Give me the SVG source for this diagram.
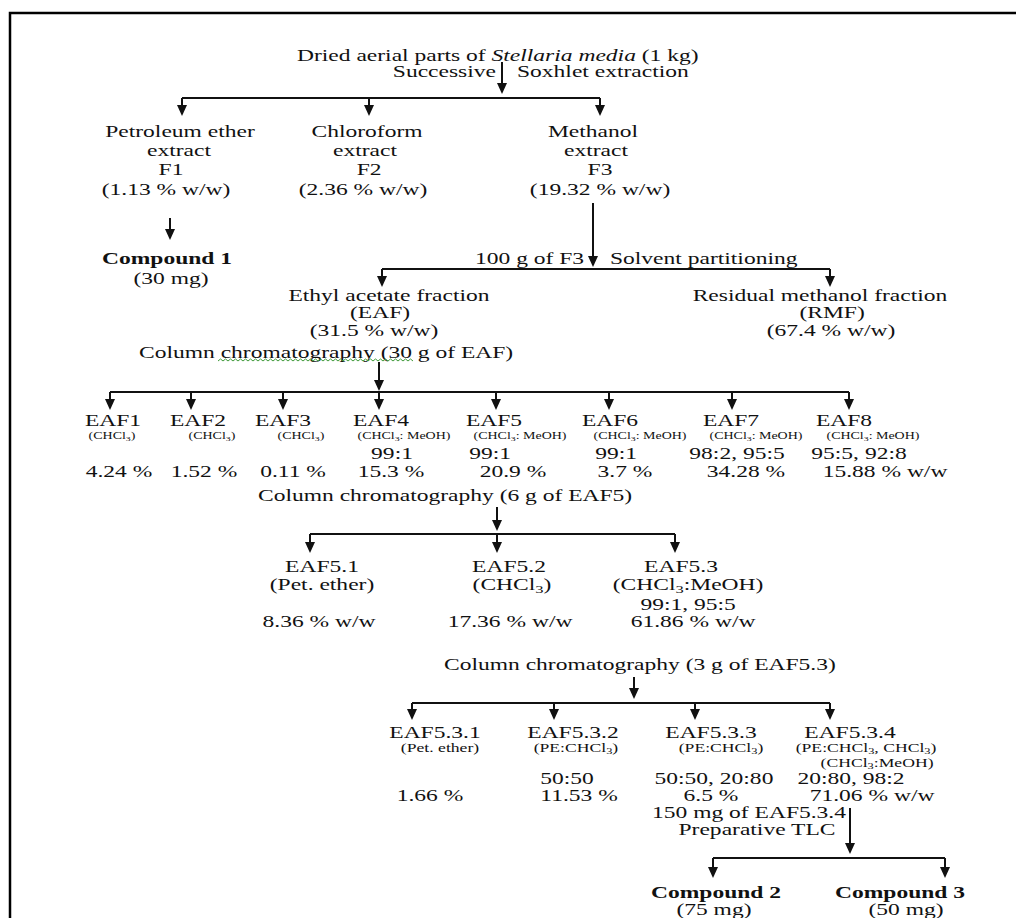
<svg xmlns="http://www.w3.org/2000/svg" width="1016" height="918" viewBox="0 0 1016 918">
<defs>
<marker id="ah" viewBox="0 0 11 10" refX="8" refY="5" markerWidth="11" markerHeight="10" markerUnits="userSpaceOnUse" orient="auto"><path d="M0,0 L11,5 L0,10 z" fill="#111"/></marker>
<style>
text{font-family:"Liberation Serif","Times New Roman",serif;font-size:16px;fill:#111}
.m{text-anchor:middle}
.e{text-anchor:end}
.b{font-weight:bold}
.sm{font-size:9.5px}
.s12{font-size:12px}
.sub{font-size:70%}
.ln{stroke:#111;stroke-width:2;fill:none}
.ar{stroke:#111;stroke-width:2;fill:none;marker-end:url(#ah)}
</style>
</defs>
<rect width="1016" height="918" fill="#fff"/>
<path d="M10 918 V13 H1016" stroke="#000" stroke-width="2.5" fill="none"/>

<g id="connectors">
<path class="ar" d="M502 62 V91"/>
<path class="ln" d="M182 98 H600"/>
<path class="ar" d="M182 98 V113"/>
<path class="ar" d="M369 98 V113"/>
<path class="ar" d="M600 98 V113"/>
<path class="ar" d="M170 218 V237"/>
<path class="ar" d="M593 203 V264"/>
<path class="ln" d="M382 269 H830"/>
<path class="ar" d="M382 269 V284"/>
<path class="ar" d="M830 269 V284"/>
<path class="ar" d="M379 362 V388"/>
<path class="ln" d="M110 392 H849"/>
<path class="ar" d="M110 392 V407"/>
<path class="ar" d="M191 392 V407"/>
<path class="ar" d="M283 392 V407"/>
<path class="ar" d="M379 392 V407"/>
<path class="ar" d="M496 392 V407"/>
<path class="ar" d="M609 392 V407"/>
<path class="ar" d="M732 392 V407"/>
<path class="ar" d="M849 392 V407"/>
<path class="ar" d="M497 507 V528"/>
<path class="ln" d="M310 534 H675"/>
<path class="ar" d="M310 534 V550"/>
<path class="ar" d="M497 534 V550"/>
<path class="ar" d="M675 534 V550"/>
<path class="ar" d="M634 677 V696"/>
<path class="ln" d="M412 703 H830"/>
<path class="ar" d="M412 703 V717"/>
<path class="ar" d="M554 703 V717"/>
<path class="ar" d="M695 703 V717"/>
<path class="ar" d="M830 703 V717"/>
<path class="ar" d="M850 808 V851"/>
<path class="ln" d="M713 858 H945"/>
<path class="ar" d="M713 858 V875"/>
<path class="ar" d="M945 858 V875"/>
<g id="edge-labels">
<g transform="translate(496 0) scale(1.47 1)"><text class="e" x="0" y="77">Successive</text></g>
<g transform="translate(517 0) scale(1.47 1)"><text x="0" y="77">Soxhlet extraction</text></g>
<g transform="translate(475 0) scale(1.47 1)"><text x="0" y="264">100 g of F3</text></g>
<g transform="translate(610 0) scale(1.47 1)"><text x="0" y="264">Solvent partitioning</text></g>
<g transform="translate(139 0) scale(1.47 1)"><text x="0" y="358">Column chromatography (30 g of EAF)</text></g>
<path d="M218 361 l2.5 -2 l2.5 2 l2.5 -2 l2.5 2 l2.5 -2 l2.5 2 l2.5 -2 l2.5 2 l2.5 -2 l2.5 2 l2.5 -2 l2.5 2 l2.5 -2 l2.5 2 l2.5 -2 l2.5 2 l2.5 -2 l2.5 2 l2.5 -2 l2.5 2 l2.5 -2 l2.5 2 l2.5 -2 l2.5 2 l2.5 -2 l2.5 2 l2.5 -2 l2.5 2 l2.5 -2 l2.5 2 l2.5 -2 l2.5 2 l2.5 -2 l2.5 2 l2.5 -2 l2.5 2 l2.5 -2 l2.5 2 l2.5 -2 l2.5 2 l2.5 -2 l2.5 2 l2.5 -2 l2.5 2 l2.5 -2 l2.5 2 l2.5 -2 l2.5 2 l2.5 -2 l2.5 2 l2.5 -2 l2.5 2 l2.5 -2 l2.5 2 l2.5 -2 l2.5 2 l2.5 -2 l2.5 2 l2.5 -2 l2.5 2 l2.5 -2 l2.5 2 l2.5 -2 l2.5 2 l2.5 -2 l2.5 2 l2.5 -2 l2.5 2 l2.5 -2 l2.5 2 l2.5 -2 l2.5 2 l2.5 -2 l2.5 2 l2.5 -2 l2.5 2 l2.5 -2 l2.5 2" stroke="#3f9a3a" stroke-width="1" fill="none"/>
<g transform="translate(258 0) scale(1.47 1)"><text x="0" y="501">Column chromatography (6 g of EAF5)</text></g>
<g transform="translate(444 0) scale(1.47 1)"><text x="0" y="670">Column chromatography (3 g of EAF5.3)</text></g>
<g transform="translate(652 0) scale(1.47 1)"><text x="0" y="818">150 mg of EAF5.3.4</text></g>
<g transform="translate(757 0) scale(1.47 1)"><text class="m" x="0" y="835">Preparative TLC</text></g>
</g>
</g>

<g id="n-root" transform="translate(297 0) scale(1.47 1)"><text x="0" y="61">Dried aerial parts of <tspan font-style="italic">Stellaria media</tspan> (1 kg)</text></g>

<g id="n-f1" transform="translate(180 0) scale(1.47 1)">
<text class="m" x="0" y="137">Petroleum ether</text>
<text class="m" x="-0.7" y="156">extract</text>
<text class="m" x="-6.1" y="175">F1</text>
<text class="m" x="-9.5" y="195">(1.13 % w/w)</text>
</g>
<g id="n-f2" transform="translate(367 0) scale(1.47 1)">
<text class="m" x="0" y="137">Chloroform</text>
<text class="m" x="-1.4" y="156">extract</text>
<text class="m" x="1.4" y="175">F2</text>
<text class="m" x="-2.7" y="195">(2.36 % w/w)</text>
</g>
<g id="n-f3" transform="translate(595 0) scale(1.47 1)">
<text class="m" x="-1.4" y="137">Methanol</text>
<text class="m" x="0.7" y="156">extract</text>
<text class="m" x="3.4" y="175">F3</text>
<text class="m" x="3.4" y="195">(19.32 % w/w)</text>
</g>
<g id="n-c1" transform="translate(167 0) scale(1.47 1)">
<text class="m b" x="0" y="264">Compound 1</text>
<text class="m" x="2.7" y="284">(30 mg)</text>
</g>
<g id="n-eaf" transform="translate(385 0) scale(1.47 1)">
<text class="m" x="2.7" y="301">Ethyl acetate fraction</text>
<text class="m" x="-3.4" y="318">(EAF)</text>
<text class="m" x="-7.5" y="336">(31.5 % w/w)</text>
</g>
<g id="n-rmf" transform="translate(825 0) scale(1.47 1)">
<text class="m" x="-3.4" y="301">Residual methanol fraction</text>
<text class="m" x="4.8" y="318">(RMF)</text>
<text class="m" x="4.1" y="336">(67.4 % w/w)</text>
</g>

<g id="n-eaf1" transform="translate(113 0) scale(1.47 1)">
<text class="m" x="0" y="426">EAF1</text>
<text class="m sm" x="-0.7" y="439">(CHCl<tspan class="sub" baseline-shift="-2">3</tspan>)</text>
<text class="m" x="4.1" y="477">4.24 %</text>
</g>
<g id="n-eaf2" transform="translate(198 0) scale(1.47 1)">
<text class="m" x="0" y="426">EAF2</text>
<text class="m sm" x="9.5" y="439">(CHCl<tspan class="sub" baseline-shift="-2">3</tspan>)</text>
<text class="m" x="4.1" y="477">1.52 %</text>
</g>
<g id="n-eaf3" transform="translate(283 0) scale(1.47 1)">
<text class="m" x="0" y="426">EAF3</text>
<text class="m sm" x="12.2" y="439">(CHCl<tspan class="sub" baseline-shift="-2">3</tspan>)</text>
<text class="m" x="6.8" y="477">0.11 %</text>
</g>
<g id="n-eaf4" transform="translate(381 0) scale(1.47 1)">
<text class="m" x="0" y="426">EAF4</text>
<text class="m sm" x="15.6" y="439">(CHCl<tspan class="sub" baseline-shift="-2">3</tspan>: MeOH)</text>
<text class="m" x="7.5" y="459">99:1</text>
<text class="m" x="6.8" y="477">15.3 %</text>
</g>
<g id="n-eaf5" transform="translate(494 0) scale(1.47 1)">
<text class="m" x="0" y="426">EAF5</text>
<text class="m sm" x="17.7" y="439">(CHCl<tspan class="sub" baseline-shift="-2">3</tspan>: MeOH)</text>
<text class="m" x="-2.7" y="459">99:1</text>
<text class="m" x="12.9" y="477">20.9 %</text>
</g>
<g id="n-eaf6" transform="translate(610 0) scale(1.47 1)">
<text class="m" x="0" y="426">EAF6</text>
<text class="m sm" x="20.4" y="439">(CHCl<tspan class="sub" baseline-shift="-2">3</tspan>: MeOH)</text>
<text class="m" x="4.1" y="459">99:1</text>
<text class="m" x="10.2" y="477">3.7 %</text>
</g>
<g id="n-eaf7" transform="translate(731 0) scale(1.47 1)">
<text class="m" x="0" y="426">EAF7</text>
<text class="m sm" x="17" y="439">(CHCl<tspan class="sub" baseline-shift="-2">3</tspan>: MeOH)</text>
<text class="m" x="4.1" y="459">98:2, 95:5</text>
<text class="m" x="10.2" y="477">34.28 %</text>
</g>
<g id="n-eaf8" transform="translate(844 0) scale(1.47 1)">
<text class="m" x="0" y="426">EAF8</text>
<text class="m sm" x="19.7" y="439">(CHCl<tspan class="sub" baseline-shift="-2">3</tspan>: MeOH)</text>
<text class="m" x="10.2" y="459">95:5, 92:8</text>
<text class="m" x="27.9" y="477">15.88 % w/w</text>
</g>

<g id="n-eaf5-1" transform="translate(322 0) scale(1.47 1)">
<text class="m" x="0" y="572">EAF5.1</text>
<text class="m" x="0" y="590">(Pet. ether)</text>
<text class="m" x="-2" y="627">8.36 % w/w</text>
</g>
<g id="n-eaf5-2" transform="translate(509 0) scale(1.47 1)">
<text class="m" x="0" y="572">EAF5.2</text>
<text class="m" x="2" y="590">(CHCl<tspan class="sub" baseline-shift="-3">3</tspan>)</text>
<text class="m" x="0.7" y="627">17.36 % w/w</text>
</g>
<g id="n-eaf5-3" transform="translate(681 0) scale(1.47 1)">
<text class="m" x="0" y="572">EAF5.3</text>
<text class="m" x="4.8" y="590">(CHCl<tspan class="sub" baseline-shift="-3">3</tspan>:MeOH)</text>
<text class="m" x="4.8" y="610">99:1, 95:5</text>
<text class="m" x="8.2" y="627">61.86 % w/w</text>
</g>

<g id="n-eaf5-3-1" transform="translate(435 0) scale(1.47 1)">
<text class="m" x="0" y="738">EAF5.3.1</text>
<text class="m s12" x="3.4" y="752">(Pet. ether)</text>
<text class="m" x="-3.4" y="801">1.66 %</text>
</g>
<g id="n-eaf5-3-2" transform="translate(573 0) scale(1.47 1)">
<text class="m" x="0" y="738">EAF5.3.2</text>
<text class="m s12" x="2" y="752">(PE:CHCl<tspan class="sub" baseline-shift="-2">3</tspan>)</text>
<text class="m" x="-4.1" y="784">50:50</text>
<text class="m" x="4.1" y="801">11.53 %</text>
</g>
<g id="n-eaf5-3-3" transform="translate(711 0) scale(1.47 1)">
<text class="m" x="0" y="738">EAF5.3.3</text>
<text class="m s12" x="6.8" y="752">(PE:CHCl<tspan class="sub" baseline-shift="-2">3</tspan>)</text>
<text class="m" x="2" y="784">50:50, 20:80</text>
<text class="m" x="0" y="801">6.5 %</text>
</g>
<g id="n-eaf5-3-4" transform="translate(850 0) scale(1.47 1)">
<text class="m" x="0" y="738">EAF5.3.4</text>
<text class="m s12" x="10.9" y="752">(PE:CHCl<tspan class="sub" baseline-shift="-2">3</tspan>, CHCl<tspan class="sub" baseline-shift="-2">3</tspan>)</text>
<text class="m s12" x="18.4" y="767">(CHCl<tspan class="sub" baseline-shift="-2">3</tspan>:MeOH)</text>
<text class="m" x="0.7" y="784">20:80, 98:2</text>
<text class="m" x="15" y="801">71.06 % w/w</text>
</g>

<g id="n-c2" transform="translate(716 0) scale(1.47 1)">
<text class="m b" x="0" y="898">Compound 2</text>
<text class="m" x="-1.4" y="915">(75 mg)</text>
</g>
<g id="n-c3" transform="translate(900 0) scale(1.47 1)">
<text class="m b" x="0" y="898">Compound 3</text>
<text class="m" x="4.1" y="915">(50 mg)</text>
</g>
</svg>
